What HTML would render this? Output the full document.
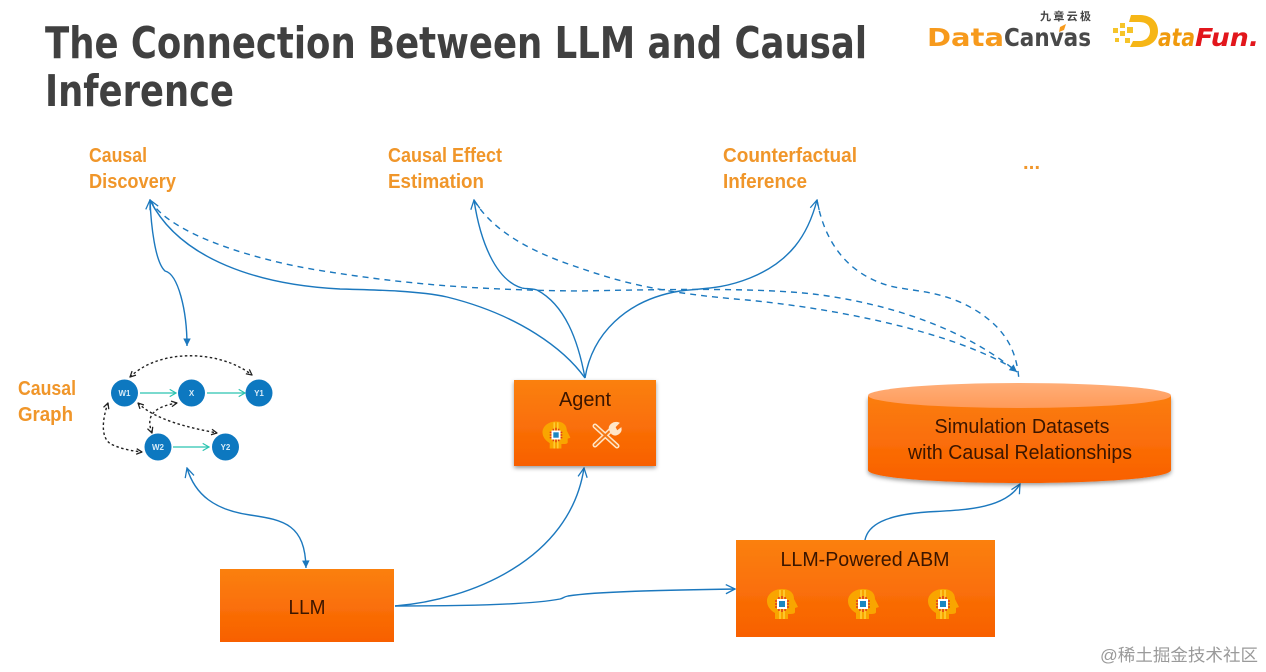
<!DOCTYPE html>
<html><head><meta charset="utf-8"><style>
html,body{margin:0;padding:0;background:#fff}
svg{display:block}
text{font-family:"Liberation Sans","Noto Sans CJK SC",sans-serif}
.dj{font-family:"DejaVu Sans",sans-serif}
</style></head><body>
<svg width="1266" height="672" viewBox="0 0 1266 672" xmlns="http://www.w3.org/2000/svg">
<defs>
<linearGradient id="o" x1="0" y1="0" x2="0" y2="1"><stop offset="0" stop-color="#fb8010"/><stop offset="1" stop-color="#f86000"/></linearGradient>
<linearGradient id="c" x1="0" y1="0" x2="0" y2="1"><stop offset="0" stop-color="#fb7d10"/><stop offset="1" stop-color="#f96000"/></linearGradient>
<linearGradient id="e" x1="0" y1="0" x2="0" y2="1"><stop offset="0" stop-color="#ffae78"/><stop offset="1" stop-color="#ff9a58"/></linearGradient>
<filter id="s" x="-10%" y="-10%" width="120%" height="125%"><feDropShadow dx="0" dy="2" stdDeviation="2" flood-color="#000" flood-opacity=".4"/></filter>
<filter id="b"><feGaussianBlur stdDeviation=".35"/></filter>
<marker id="a" viewBox="0 0 12 12" refX="11" refY="6" markerWidth="11" markerHeight="11" markerUnits="userSpaceOnUse" orient="auto-start-reverse"><path d="M1 1L11 6L1 11" fill="none" stroke="#1a78be" stroke-width="1.4"/></marker>
<marker id="f" viewBox="0 0 12 12" refX="11" refY="6" markerWidth="9" markerHeight="9" markerUnits="userSpaceOnUse" orient="auto"><path d="M1 1L11 6L1 11Z" fill="#1a78be"/></marker>
<marker id="k" viewBox="0 0 10 10" refX="9" refY="5" markerWidth="7" markerHeight="7" markerUnits="userSpaceOnUse" orient="auto-start-reverse"><path d="M1 1L9 5L1 9" fill="none" stroke="#222" stroke-width="1.8"/></marker>
<marker id="t" viewBox="0 0 10 10" refX="9" refY="5" markerWidth="9" markerHeight="9" markerUnits="userSpaceOnUse" orient="auto"><path d="M2 1L9 5L2 9" fill="none" stroke="#2cc4b0" stroke-width="1.3"/></marker>
<g id="h">
<path d="M-7 15V9C-12 6-15 2-15 -3C-15 -10-8 -15 0 -15C8 -15 12 -11 12 -5L16 3L13 4V8C13 10 10 10 6 10V15Z" fill="#f9a500"/>
<path d="M-2 -14V15M2 -14V15" stroke="#ffd23a" stroke-width="1.500"/>
<path d="M-7 -3H7M-7 0H7M-7 3H7M-3 -7V7M0 -8V8M3 -7V7" stroke="#d8261c" stroke-width="1.300"/>
<rect x="-5" y="-5" width="10" height="10" fill="#fff"/>
<rect x="-3" y="-3" width="6" height="6" fill="#1b87c0"/>
</g>
</defs>
<rect width="1266" height="672" fill="#fff"/>

<g filter="url(#b)">
<text class="dj" x="45" y="58" font-size="44" font-weight="700" fill="#404040" textLength="822" lengthAdjust="spacingAndGlyphs">The Connection Between LLM and Causal</text>
<text class="dj" x="45" y="106" font-size="44" font-weight="700" fill="#404040" textLength="189" lengthAdjust="spacingAndGlyphs">Inference</text>

<text x="1040" y="20" font-size="11" font-weight="700" fill="#444" textLength="51">九章云极</text>
<text class="dj" x="927" y="46" font-size="25" font-weight="700" fill="#f79a1c" textLength="77" lengthAdjust="spacingAndGlyphs">Data</text>
<text class="dj" x="1004" y="46" font-size="25" font-weight="700" fill="#484848" textLength="87" lengthAdjust="spacingAndGlyphs">Canvas</text>
<path d="M1060 27l6-3-2 6-5 2z" fill="#f79a1c"/>
<path d="M1131 15h8c15 0 19 9 19 16c0 10-8 16-19 16h-9l3-6h6c7 0 11-4 11-10c0-5-3-9-11-9h-10z" fill="#f6b616"/>
<g fill="#f6c42a"><rect x="1113" y="28" width="5" height="5"/><rect x="1120" y="23" width="5" height="5"/><rect x="1120" y="31" width="5" height="5"/><rect x="1127" y="27" width="6" height="6"/><rect x="1115" y="38" width="4" height="4"/><rect x="1125" y="38" width="5" height="5"/></g>
<text class="dj" x="1158" y="46" font-size="25" font-style="italic" font-weight="700" fill="#f09a10" textLength="37" lengthAdjust="spacingAndGlyphs">ata</text>
<text class="dj" x="1195" y="46" font-size="25" font-style="italic" font-weight="700" fill="#e2161a" textLength="64" lengthAdjust="spacingAndGlyphs">Fun.</text>

<g font-size="20" font-weight="700" fill="#f0962a">
<text x="89" y="162" textLength="58" lengthAdjust="spacingAndGlyphs">Causal</text>
<text x="89" y="188" textLength="87" lengthAdjust="spacingAndGlyphs">Discovery</text>
<text x="388" y="162" textLength="114" lengthAdjust="spacingAndGlyphs">Causal Effect</text>
<text x="388" y="188" textLength="96" lengthAdjust="spacingAndGlyphs">Estimation</text>
<text x="723" y="162" textLength="134" lengthAdjust="spacingAndGlyphs">Counterfactual</text>
<text x="723" y="188" textLength="84" lengthAdjust="spacingAndGlyphs">Inference</text>
<text x="1023" y="169" textLength="17" lengthAdjust="spacing">...</text>
<text x="18" y="395" textLength="58" lengthAdjust="spacingAndGlyphs">Causal</text>
<text x="18" y="421" textLength="55" lengthAdjust="spacingAndGlyphs">Graph</text>
</g>

<g fill="none" stroke="#1a78be" stroke-width="1.4">
<path d="M585 378C565 350 520 315 447 297C420 291 380 290 340 289C260 285 180 260 150 200" marker-end="url(#a)"/>
<path d="M150 200C151 225 155 262 165 271C178 274 187 310 187 346" marker-start="url(#a)" marker-end="url(#f)"/>
<path d="M585 378C578 340 565 305 537 290C530 288 526 289 522 288C495 280 480 240 474 200" marker-end="url(#a)"/>
<path d="M585 378C592 335 625 300 680 291C700 288 720 290 750 278C790 262 808 235 817 200" marker-end="url(#a)"/>
<path d="M187 468C195 495 215 510 250 515C285 520 305 525 306 568" marker-start="url(#a)" marker-end="url(#f)"/>
<path d="M395 606C470 600 570 560 584 468" marker-end="url(#a)"/>
<path d="M395 606C450 606 530 605 560 599C564 598 563 597 568 596C600 591 680 590 735 589" marker-end="url(#a)"/>
<path d="M865 540C868 525 885 515 927 512C960 510 1005 510 1020 484" marker-end="url(#a)"/>
<g stroke-dasharray="6 5">
<path d="M150 200C170 235 260 262 330 272C400 283 470 290 580 291C680 289 760 288 813 294C880 302 960 325 1017 372" marker-end="url(#f)"/>
<path d="M474 200C495 235 540 255 580 268C620 282 660 293 747 300C830 308 950 330 1016 370"/>
<path d="M817 200C825 245 850 275 890 286C915 292 945 290 980 313C1005 330 1017 350 1019 381"/>
</g>
</g>

<rect x="514" y="380" width="142" height="86" fill="url(#o)" filter="url(#s)"/>
<text x="585" y="406" font-size="20" text-anchor="middle" fill="#3a1200" textLength="52" lengthAdjust="spacingAndGlyphs">Agent</text>
<use href="#h" transform="translate(556 435) scale(.9)"/>
<g fill="none" stroke-linecap="round">
<path d="M595 426L617 446M595 445L613 428" stroke="#ffe6c8" stroke-width="5"/>
<path d="M595 426L617 446M595 445L613 428" stroke="#f57a14" stroke-width="2"/>
<path d="M610 431C607 425 614 421 619 423L615 427L617 431L621 428C622 433 616 437 612 434Z" fill="#ffe6c8" stroke="#ffe6c8"/>
</g>

<rect x="220" y="569" width="174" height="73" fill="url(#o)"/>
<text x="307" y="614" font-size="20" text-anchor="middle" fill="#3a1200" textLength="37" lengthAdjust="spacingAndGlyphs">LLM</text>

<rect x="736" y="540" width="259" height="97" fill="url(#o)"/>
<text x="865" y="566" font-size="20" text-anchor="middle" fill="#3a1200" textLength="169" lengthAdjust="spacingAndGlyphs">LLM-Powered ABM</text>
<use href="#h" transform="translate(782 604)"/>
<use href="#h" transform="translate(863 604)"/>
<use href="#h" transform="translate(943 604)"/>

<path d="M868 396V470C868 478 940 483 1020 483C1100 483 1171 478 1171 470V396Z" fill="url(#c)" filter="url(#s)"/>
<ellipse cx="1019.500" cy="395.500" rx="151.500" ry="12.500" fill="url(#e)"/>
<text x="1022" y="433" font-size="20" text-anchor="middle" fill="#3a1200" textLength="175" lengthAdjust="spacingAndGlyphs">Simulation Datasets</text>
<text x="1020" y="459" font-size="20" text-anchor="middle" fill="#3a1200" textLength="224" lengthAdjust="spacingAndGlyphs">with Causal Relationships</text>

<g fill="none" stroke="#222" stroke-width="1.400" stroke-dasharray="2.500 2.500">
<path d="M130 377C160 348 220 350 252 375" marker-start="url(#k)" marker-end="url(#k)"/>
<path d="M108 403C102 420 100 440 113 445C122 449 132 451 142 452" marker-start="url(#k)" marker-end="url(#k)"/>
<path d="M138 403C155 420 190 428 217 433" marker-start="url(#k)" marker-end="url(#k)"/>
<path d="M152 433C148 422 146 408 177 403" marker-start="url(#k)" marker-end="url(#k)"/>
</g>
<g stroke="#2cc4b0" stroke-width="1.300" fill="none">
<path d="M140 393H176" marker-end="url(#t)"/><path d="M207 393H245" marker-end="url(#t)"/><path d="M173 447H209" marker-end="url(#t)"/>
</g>
<g fill="#0f78c0">
<circle cx="124.500" cy="393" r="13.500"/><circle cx="191.500" cy="393" r="13.500"/><circle cx="259" cy="393" r="13.500"/><circle cx="158" cy="447" r="13.500"/><circle cx="225.500" cy="447" r="13.500"/>
</g>
<g font-size="8" font-weight="700" fill="#d8ecf8" text-anchor="middle">
<text x="124.500" y="396">W1</text><text x="191.500" y="396">X</text><text x="259" y="396">Y1</text><text x="158" y="450">W2</text><text x="225.500" y="450">Y2</text>
</g>
<text x="1100" y="661" font-size="17" fill="#9a9a9a" textLength="158" lengthAdjust="spacingAndGlyphs">@稀土掘金技术社区</text>
</g>
</svg>
</body></html>
